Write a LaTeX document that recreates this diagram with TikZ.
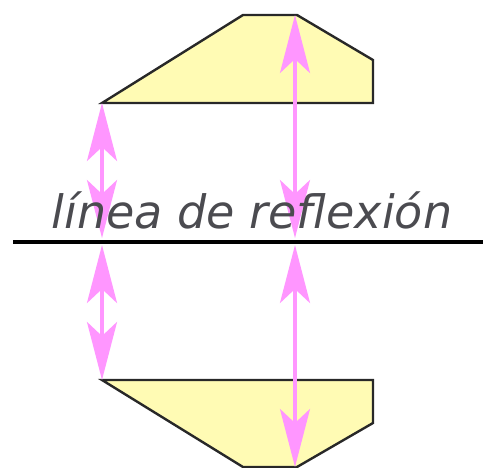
\documentclass[tikz,border=0pt]{standalone}
\usepackage{fontspec}
\setmainfont{DejaVu Sans}
\usetikzlibrary{arrows.meta}
\definecolor{pinkarrow}{RGB}{255,150,255}
\definecolor{shapefill}{RGB}{255,251,180}
\definecolor{outline}{RGB}{40,40,40}
\definecolor{textgray}{RGB}{75,75,80}
\tikzset{
  shapebox/.style={fill=shapefill,draw=outline,line width=2.4pt,line join=miter},
  pinkarr/.style={draw=pinkarrow,line width=3.5pt,-{Stealth[length=58pt,width=30pt,inset=14pt]}},
  mirrorline/.style={draw=black,line width=3.5pt},
}
\begin{document}
\begin{tikzpicture}[x=1pt,y=-1pt]
\useasboundingbox (0,0) rectangle (483,467);
% top shape
\coordinate (t1) at (102,103);
\coordinate (t2) at (243,15);
\coordinate (t3) at (297,15);
\coordinate (t4) at (373,60);
\coordinate (t5) at (373,103);
\draw[shapebox] (t1) -- (t2) -- (t3) -- (t4) -- (t5) -- cycle;
% bottom shape
\coordinate (b1) at (102,380);
\coordinate (b5) at (373,380);
\coordinate (b4) at (373,423);
\coordinate (b3) at (297,467);
\coordinate (b2) at (243,467);
\draw[shapebox] (b1) -- (b5) -- (b4) -- (b3) -- (b2) -- cycle;
% arrow end points
\coordinate (la) at (102,238);
\coordinate (lb) at (102,245);
\coordinate (rtop) at (295,15);
\coordinate (ra) at (295,238);
\coordinate (rb) at (295,245);
\coordinate (rbot) at (295,467);
\coordinate (lmid1) at (102,170);
\coordinate (lmid2) at (102,312);
\coordinate (rmid1) at (295,126);
\coordinate (rmid2) at (295,356);
% arrows
\draw[pinkarr] (lmid1) -- (t1);
\draw[pinkarr] (lmid1) -- (la);
\draw[pinkarr] (lmid2) -- (lb);
\draw[pinkarr] (lmid2) -- (b1);
\draw[pinkarr] (rmid1) -- (rtop);
\draw[pinkarr] (rmid1) -- (ra);
\draw[pinkarr] (rmid2) -- (rb);
\draw[pinkarr] (rmid2) -- (rbot);
% text
\node[anchor=base,text=textgray,font=\fontsize{46}{50}\selectfont\itshape,inner sep=0pt] (lbl) at (252,228) {línea de reflexión};
% mirror line
\coordinate (m1) at (13,242);
\coordinate (m2) at (483,242);
\draw[mirrorline] (m1) -- (m2);
\end{tikzpicture}
\end{document}
